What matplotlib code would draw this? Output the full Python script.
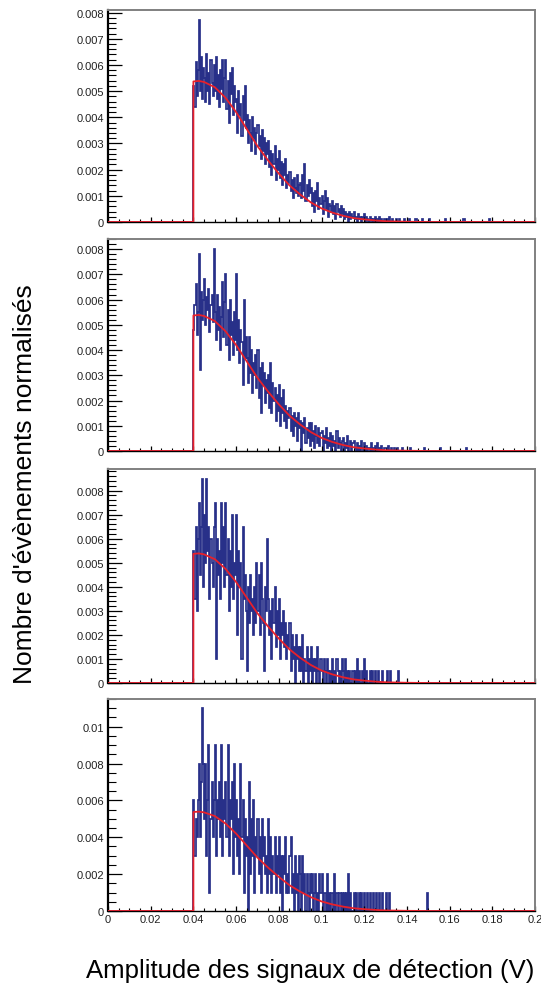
import numpy as np
import matplotlib.pyplot as plt
from matplotlib.ticker import MultipleLocator, FuncFormatter

plt.rcParams['font.family'] = ['Liberation Sans', 'DejaVu Sans']

# --- Histogrammes normalises (bins de 0.0005 V a partir de 0.04 V), unite 1e-4 ---
bin_start = 0.04
bin_width = 0.0005

h1 = [52, 44, 61, 48, 58, 77, 50, 63, 47, 59,
      55, 46, 64, 50, 57, 45, 62, 53, 48, 60,
      50, 63, 47, 56, 44, 58, 51, 62, 46, 55,
      62, 43, 54, 38, 57, 49, 59, 41, 52, 46,
      47, 34, 50, 41, 45, 33, 48, 39, 52, 36,
      41, 30, 39, 34, 27, 40, 32, 36, 26, 34,
      37, 29, 33, 24, 35, 27, 32, 22, 30, 26,
      31, 21, 27, 18, 26, 22, 29, 16, 24, 20,
      27, 17, 23, 14, 22, 18, 24, 13, 18, 15,
      19, 12, 16, 9, 17, 13, 11, 18, 10, 14,
      15, 9, 18, 12, 22, 8, 14, 10, 16, 11,
      13, 6, 11, 4, 12, 8, 15, 5, 9, 7,
      10, 3, 8, 12, 5, 9, 2, 7, 6, 4,
      8, 3, 6, 1, 7, 4, 5, 2, 6, 3,
      5, 1, 4, 2, 3, 0, 4, 1, 3, 2,
      4, 1, 2, 0, 3, 1, 2, 0, 2, 1,
      3, 0, 2, 1, 0, 2, 1, 0, 1, 0,
      2, 0, 1, 0, 2, 0, 1, 0, 0, 1,
      0, 1, 0, 2, 0, 0, 1, 0, 0, 0,
      1, 0, 0, 1, 0, 0, 0, 1, 0, 0,
      0, 0, 1, 0, 0, 0, 0, 0, 1, 0,
      0, 0, 0, 0, 1, 0, 0, 0, 0, 0,
      0, 1, 0, 0, 0, 0, 0, 0, 0, 0,
      0, 0, 0, 0, 0, 0, 1, 0, 0, 0,
      0, 0, 0, 0, 0, 0, 0, 0, 0, 0,
      0, 0, 0, 1, 0, 0, 0, 0, 0, 0,
      0, 0, 0, 0, 0, 0, 0, 0, 0, 0,
      0, 0, 0, 0, 0, 0, 0, 1, 0, 0]

h2 = [48, 58, 66, 46, 55, 78, 32, 63, 52, 60,
      68, 50, 61, 56, 64, 47, 58, 62, 51, 80,
      55, 44, 62, 48, 57, 40, 53, 67, 45, 59,
      70, 42, 56, 36, 60, 46, 51, 38, 55, 44,
      70, 40, 52, 35, 48, 43, 26, 60, 37, 45,
      37, 27, 45, 31, 40, 23, 35, 30, 38, 25,
      40, 21, 33, 15, 35, 26, 31, 19, 28, 23,
      30, 17, 35, 15, 27, 20, 25, 12, 22, 16,
      26, 10, 21, 15, 24, 12, 18, 9, 16, 13,
      17, 8, 14, 6, 15, 10, 13, 4, 15, 9,
      12, 0, 11, 7, 13, 3, 9, 5, 11, 2,
      11, 4, 8, 1, 10, 6, 3, 9, 2, 7,
      8, 0, 6, 3, 9, 1, 5, 2, 7, 0,
      6, 2, 4, 0, 8, 1, 5, 3, 0, 4,
      5, 0, 3, 1, 6, 0, 2, 4, 0, 3,
      4, 1, 0, 3, 0, 2, 0, 4, 1, 0,
      3, 0, 2, 0, 1, 0, 3, 0, 1, 0,
      2, 0, 3, 0, 1, 0, 2, 0, 0, 1,
      1, 0, 2, 0, 0, 1, 0, 0, 1, 0,
      0, 1, 0, 0, 0, 1, 0, 0, 0, 0,
      0, 0, 0, 1, 0, 0, 0, 0, 0, 0,
      0, 0, 0, 0, 0, 0, 1, 0, 0, 0,
      0, 0, 0, 0, 0, 0, 0, 0, 0, 0,
      0, 1, 0, 0, 0, 0, 0, 0, 0, 0,
      0, 0, 0, 0, 0, 0, 0, 0, 0, 0,
      0, 0, 0, 0, 0, 1, 0, 0, 0, 0]

h3 = [55, 35, 65, 30, 60, 75, 45, 65, 85, 40,
      70, 50, 85, 55, 65, 35, 60, 50, 40, 65,
      75, 10, 60, 45, 55, 35, 75, 50, 65, 40,
      75, 45, 60, 30, 55, 40, 70, 35, 50, 45,
      70, 20, 55, 40, 50, 10, 65, 35, 45, 30,
      5, 40, 25, 45, 30, 35, 20, 40, 25, 50,
      30, 45, 20, 50, 35, 25, 5, 40, 30, 60,
      35, 20, 30, 10, 35, 25, 40, 15, 30, 20,
      35, 10, 25, 20, 30, 15, 25, 10, 20, 15,
      25, 5, 20, 10, 15, 0, 20, 10, 15, 5,
      15, 5, 20, 0, 10, 5, 15, 0, 10, 5,
      15, 0, 10, 5, 10, 0, 15, 5, 0, 10,
      5, 0, 10, 5, 0, 10, 5, 0, 5, 0,
      10, 0, 5, 0, 10, 5, 0, 5, 0, 10,
      5, 0, 10, 0, 5, 0, 5, 0, 0, 5,
      0, 5, 0, 10, 0, 5, 0, 0, 5, 0,
      10, 0, 5, 0, 0, 5, 0, 5, 0, 0,
      5, 0, 0, 5, 0, 0, 0, 5, 0, 0,
      0, 5, 0, 0, 5, 0, 0, 0, 0, 0,
      0, 0, 5, 0, 0, 0, 0, 0, 0, 0]

h4 = [60, 30, 50, 40, 60, 80, 40, 70, 110, 80,
      50, 80, 30, 60, 90, 10, 50, 70, 40, 60,
      90, 30, 60, 50, 70, 40, 90, 30, 60, 50,
      70, 40, 90, 30, 60, 50, 70, 20, 80, 40,
      60, 30, 50, 20, 80, 40, 60, 10, 50, 30,
      40, 0, 70, 20, 50, 30, 60, 10, 40, 30,
      50, 20, 40, 10, 50, 30, 40, 20, 30, 10,
      50, 20, 40, 10, 30, 20, 40, 10, 30, 20,
      40, 10, 30, 0, 30, 20, 40, 10, 20, 10,
      30, 40, 10, 20, 0, 30, 10, 20, 0, 30,
      20, 0, 30, 10, 20, 0, 20, 10, 0, 20,
      10, 20, 0, 10, 20, 0, 10, 0, 20, 10,
      20, 0, 10, 10, 0, 20, 0, 10, 0, 10,
      10, 0, 20, 0, 10, 0, 10, 10, 0, 10,
      0, 10, 0, 10, 0, 20, 0, 10, 0, 0,
      10, 0, 10, 0, 0, 10, 0, 10, 0, 0,
      10, 0, 0, 10, 0, 10, 0, 0, 10, 0,
      0, 10, 0, 0, 10, 0, 0, 10, 0, 0,
      10, 0, 0, 10, 0, 0, 0, 0, 0, 0,
      0, 0, 0, 0, 0, 0, 0, 0, 0, 0,
      0, 0, 0, 0, 0, 0, 0, 0, 0, 0,
      0, 0, 0, 0, 0, 0, 0, 0, 0, 10]

# --- Fonction d'ajustement ---
fit_x = [0.0, 0.04, 0.04, 0.0425, 0.045, 0.05, 0.055, 0.06, 0.065, 0.07, 0.075,
         0.08, 0.085, 0.09, 0.095, 0.1, 0.105, 0.11, 0.115, 0.12, 0.125,
         0.13, 0.135, 0.14, 0.15, 0.2]
fit_y = [0.0, 0.0, 0.00537, 0.00539, 0.00535, 0.00515, 0.00475, 0.00420, 0.00355,
         0.00290, 0.00235, 0.00185, 0.00140, 0.00105, 0.00075, 0.00052, 0.00036,
         0.00024, 0.00015, 0.00010, 0.00006, 0.00003, 0.00002, 0.00001, 0.0, 0.0]

histos = [h1, h2, h3, h4]
y_max = [0.0081, 0.0084, 0.0089, 0.0115]
y_major = [0.001, 0.001, 0.001, 0.002]
y_minor = [0.0002, 0.0002, 0.0002, 0.0005]

# positions des cadres en pixels (haut, bas) pour une image 541x987
frames = [(11, 223), (240, 452), (470, 684), (700, 912)]

navy = '#283089'
red = '#e8202a'

fig = plt.figure(figsize=(5.41, 9.87), dpi=100)

def fmt(v, pos):
    if abs(v) < 1e-12:
        return "0"
    return f"{v:g}"

for i, h in enumerate(histos):
    top, bottom = frames[i]
    ax = fig.add_axes([108 / 541, 1 - bottom / 987, 427 / 541, (bottom - top) / 987])

    # histogramme complet de 0 a 0.2 (zero hors des donnees)
    n_bins = int(round(0.2 / bin_width))
    vals = np.zeros(n_bins)
    i0 = int(round(bin_start / bin_width))
    vals[i0:i0 + len(h)] = np.array(h) * 1e-4
    edges = np.arange(n_bins + 1) * bin_width
    ax.stairs(vals, edges, color=navy, lw=1.25)

    # fonction d'ajustement par-dessus
    ax.plot(fit_x, fit_y, color=red, lw=1.3, zorder=3)

    ax.set_xlim(0, 0.2)
    ax.set_ylim(0, y_max[i])

    ax.xaxis.set_major_locator(MultipleLocator(0.02))
    ax.xaxis.set_minor_locator(MultipleLocator(0.005))
    ax.yaxis.set_major_locator(MultipleLocator(y_major[i]))
    ax.yaxis.set_minor_locator(MultipleLocator(y_minor[i]))
    ax.yaxis.set_major_formatter(FuncFormatter(fmt))
    ax.xaxis.set_major_formatter(FuncFormatter(fmt))

    ax.tick_params(axis='both', which='both', direction='in', colors='black',
                   labelcolor='#222222', labelsize=8, top=False, right=False)
    ax.tick_params(axis='y', which='major', length=10, width=0.9, pad=3)
    ax.tick_params(axis='y', which='minor', length=5.5, width=0.8)
    ax.tick_params(axis='x', which='major', length=3.8, width=0.9, pad=2)
    ax.tick_params(axis='x', which='minor', length=2.2, width=0.8)
    if i < 3:
        ax.tick_params(axis='x', labelbottom=False)

    ax.spines['left'].set_linewidth(1.6)
    ax.spines['left'].set_color('black')
    ax.spines['bottom'].set_linewidth(1.0)
    ax.spines['bottom'].set_color('black')
    for s in ['top', 'right']:
        ax.spines[s].set_color('#808080')
        ax.spines[s].set_linewidth(1.4)

# titres des axes
fig.text(0.046, 0.51, "Nombre d'évènements normalisés", rotation=90,
         ha='center', va='center', fontsize=19)
fig.text(0.573, 0.016, "Amplitude des signaux de détection (V)",
         ha='center', va='center', fontsize=18.5)

plt.savefig("out.png", dpi=100)
